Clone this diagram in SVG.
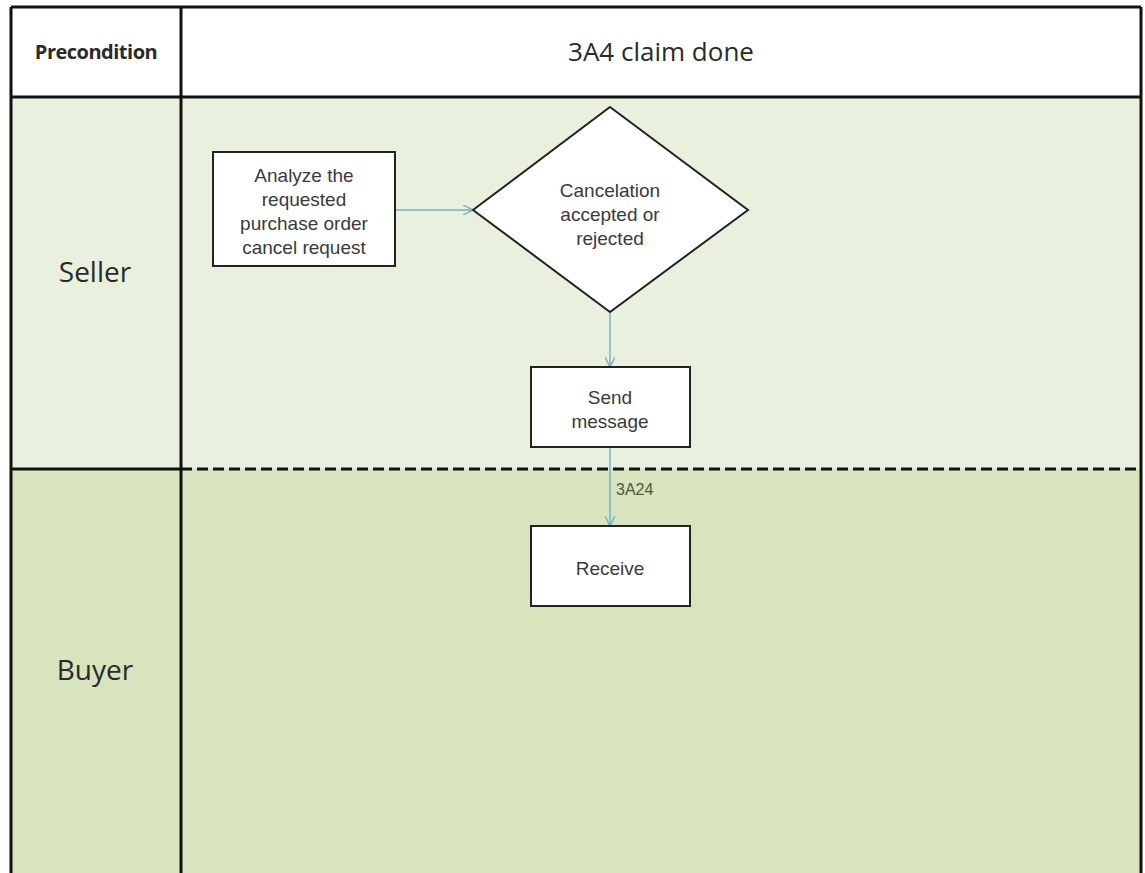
<svg xmlns="http://www.w3.org/2000/svg" width="1145" height="873" viewBox="0 0 1145 873">
<defs>
<style>
.lane{stroke:none}
.grid{stroke:#111;stroke-width:3;fill:none}
.box{fill:#fff;stroke:#222;stroke-width:2}
.t{font-family:"Liberation Sans",Arial,sans-serif;font-size:19px;fill:#3a3a3a;text-anchor:middle}
.h{font-family:"Open Sans","Liberation Sans",sans-serif;fill:#2a2a2a;text-anchor:middle}
.conn{stroke:#7ab0c8;stroke-width:1.5;fill:none}
</style>
<marker id="arr" viewBox="0 0 10 10" refX="9" refY="5" markerWidth="10" markerHeight="10" markerUnits="userSpaceOnUse" orient="auto">
<path d="M0,0 L10,5 L0,10" fill="none" stroke="#7ab0c8" stroke-width="1.5"/>
</marker>
</defs>
<rect width="1145" height="873" fill="#fff"/>
<g id="lanes">
<rect class="lane" x="11" y="97" width="1130" height="372" fill="#eaf0de"/>
<rect class="lane" x="11" y="469" width="1130" height="404" fill="#d8e4bd"/>
<rect x="11" y="7" width="1130" height="90" fill="#fff"/>
<line class="grid" x1="11" y1="7" x2="1141" y2="7"/>
<line class="grid" x1="11" y1="7" x2="11" y2="873"/>
<line class="grid" x1="1141" y1="7" x2="1141" y2="873"/>
<line class="grid" x1="181" y1="7" x2="181" y2="873"/>
<line class="grid" x1="11" y1="97" x2="1141" y2="97"/>
<line class="grid" x1="11" y1="469" x2="181" y2="469"/>
<line class="grid" x1="181" y1="469" x2="1141" y2="469" stroke-dasharray="11,5"/>
<text class="h" x="96" y="59" font-size="20" font-weight="bold" letter-spacing="-0.5">Precondition</text>
<text class="h" x="661" y="61" font-size="26">3A4 claim done</text>
<text class="h" x="95" y="282" font-size="28">Seller</text>
<text class="h" x="95" y="680" font-size="28">Buyer</text>
</g>
<g id="connectors">
<line class="conn" x1="395" y1="210" x2="472" y2="210" marker-end="url(#arr)"/>
<line class="conn" x1="610" y1="312" x2="610" y2="366" marker-end="url(#arr)"/>
<line class="conn" x1="610" y1="447" x2="610" y2="525" marker-end="url(#arr)"/>
<text x="616" y="495" font-family="Liberation Sans,Arial,sans-serif" font-size="16" fill="#4a5a3a">3A24</text>
</g>
<g id="analyze">
<rect class="box" x="213" y="152" width="182" height="114"/>
<text class="t" x="304" y="182">Analyze the</text>
<text class="t" x="304" y="206">requested</text>
<text class="t" x="304" y="230">purchase order</text>
<text class="t" x="304" y="254">cancel request</text>
</g>
<g id="decision">
<polygon class="box" points="610,107 748,210 610,312 473,210"/>
<text class="t" x="610" y="197">Cancelation</text>
<text class="t" x="610" y="221">accepted or</text>
<text class="t" x="610" y="245">rejected</text>
</g>
<g id="send">
<rect class="box" x="531" y="367" width="159" height="80"/>
<text class="t" x="610" y="404">Send</text>
<text class="t" x="610" y="428">message</text>
</g>
<g id="receive">
<rect class="box" x="531" y="526" width="159" height="80"/>
<text class="t" x="610" y="575">Receive</text>
</g>
</svg>
